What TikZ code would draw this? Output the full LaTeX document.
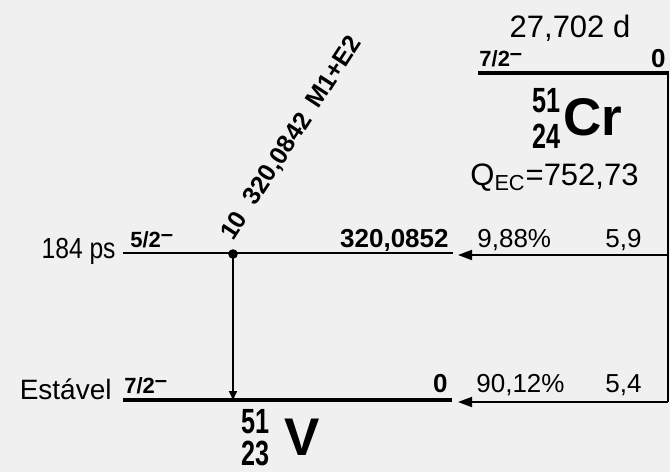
\documentclass[tikz,border=0pt]{standalone}
\usepackage{fontspec}
\setmainfont{Liberation Sans}
\newfontfamily\narrowfont[FakeStretch=0.85]{Liberation Sans}
\newfontfamily\condfont[FakeStretch=0.72]{Liberation Sans}
\usetikzlibrary{arrows.meta}
\definecolor{bgcol}{HTML}{F0F0F0}
\newcommand\fsz[1]{\fontsize{#1}{#1}\selectfont}
\newcommand\negspin[1]{#1\raisebox{0.5ex}{\textendash}}

\begin{document}
\begin{tikzpicture}[x=0.5pt, y=-0.5pt,
    every node/.style={inner sep=0pt},
    level/.style={line width=1pt},
    gslevel/.style={line width=1.7pt},
    ec/.style={-{Triangle[length=7pt,width=5pt]}, line width=0.9pt},
    gam/.style={-{Triangle[length=4.5pt,width=4pt]}, line width=0.9pt},
    spin/.style={font=\fsz{11pt}\bfseries},
    energy/.style={font=\fsz{13pt}\bfseries},
    branch/.style={font=\fsz{13pt}},
    lifetime/.style={font=\fsz{14.5pt}},
    nucnum/.style={font=\condfont\fsz{17.5pt}\bfseries},
    nucsym/.style={font=\fsz{26.5pt}\bfseries}
]
\fill[bgcol] (0,0) rectangle (670,472);
\useasboundingbox (0,0) rectangle (670,472);

% parent 51Cr
\coordinate (crL) at (478,73);
\coordinate (crR) at (668,73);
\coordinate (ecB) at (668,402);
\draw[gslevel] (crL) -- (669,73);
\draw[level] (crR) -- (ecB);
\node[lifetime, font=\fsz{15.5pt}, anchor=base] (crT) at (570,37) {27,702 d};
\node[spin, anchor=base west] (crJ) at (479,66) {\negspin{7/2}};
\node[energy, anchor=base east] (crE) at (666,67) {0};
\node[nucnum, anchor=base east] (crA) at (561,112) {51};
\node[nucnum, anchor=base east] (crZ) at (561,148) {24};
\node[nucsym, anchor=base west] (crS) at (563,135) {Cr};
\node[font=\fsz{15.5pt}, anchor=base west] (qec) at (470,185) {Q\textsubscript{EC}=752,73};

% levels of 51V
\coordinate (l1L) at (123,253);
\coordinate (l1R) at (453,253);
\coordinate (l0L) at (123,400);
\coordinate (l0R) at (452,400);
\draw[level] (l1L) -- (l1R);
\draw[gslevel] (l0L) -- (l0R);

\node[lifetime, font=\narrowfont\fsz{14.5pt}, anchor=base east] (t1) at (116,258) {184 ps};
\node[spin, anchor=base west] (j1) at (130,247) {\negspin{5/2}};
\node[energy, anchor=base east] (e1) at (449,247) {320,0852};
\node[branch, anchor=base west] (b1) at (477,247) {9,88\%};
\node[branch, anchor=base west] (f1) at (605,247) {5,9};

\node[lifetime, font=\fsz{14pt}, anchor=base east] (t0) at (112,399) {Estável};
\node[spin, anchor=base west] (j0) at (124,393) {\negspin{7/2}};
\node[energy, anchor=base east] (e0) at (448,392) {0};
\node[branch, anchor=base west] (b0) at (476,392) {90,12\%};
\node[branch, anchor=base west] (f0) at (605,392) {5,4};

% EC feeding
\coordinate (ec1s) at (668,255);
\coordinate (ec1e) at (458,255);
\coordinate (ec0s) at (668,402);
\coordinate (ec0e) at (458,402);
\draw[ec] (ec1s) -- (ec1e);
\draw[ec] (ec0s) -- (ec0e);

% gamma
\coordinate (g1) at (233,254);
\coordinate (g0) at (233,400);
\draw[gam] (g1) -- (g0);
\fill (g1) circle (2.4pt);
\node[font=\fsz{12.5pt}\bfseries, rotate=57, anchor=base west] (glab) at (233,242)
  {10\hspace{0.55em}320,0842\hspace{0.45em}M1+E2};

% daughter 51V
\node[nucnum, anchor=base east] (vA) at (270,433) {51};
\node[nucnum, anchor=base east] (vZ) at (270,465) {23};
\node[nucsym, anchor=base west] (vS) at (284,455) {V};
\end{tikzpicture}
\end{document}
